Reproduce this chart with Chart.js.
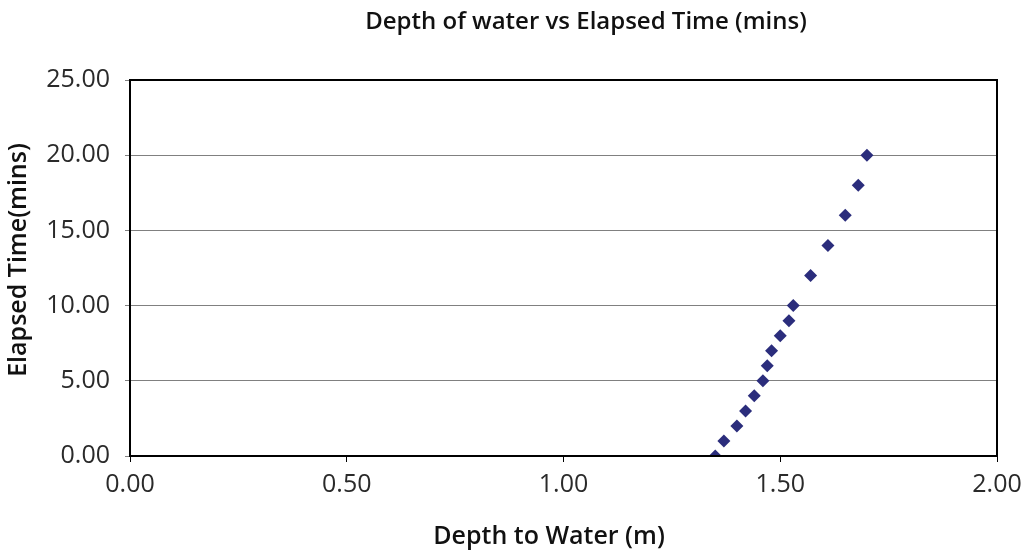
<!DOCTYPE html>
<html>
<head>
<meta charset="utf-8">
<script src="https://cdn.jsdelivr.net/npm/chart.js@4/dist/chart.umd.min.js"></script>
<style>
html,body{margin:0;padding:0;background:#fff;}
#c{display:block;}
</style>
</head>
<body>
<canvas id="c" width="1026" height="553"></canvas>
<script>
const chartTitle = "Depth of water vs Elapsed Time (mins)";
const xAxisTitle = "Depth to Water (m)";
const yAxisTitle = "Elapsed Time(mins)";
const depthToWater = [1.35, 1.37, 1.40, 1.42, 1.44, 1.46, 1.47, 1.48, 1.50, 1.52, 1.53, 1.57, 1.61, 1.65, 1.68, 1.70];
const elapsedTime  = [0, 1, 2, 3, 4, 5, 6, 7, 8, 9, 10, 12, 14, 16, 18, 20];
const xTicks = [0, 0.5, 1.0, 1.5, 2.0];
const yTicks = [0, 5, 10, 15, 20, 25];

const points = depthToWater.map((x, i) => ({x: x, y: elapsedTime[i]}));
const FONT = "'Open Sans', 'DejaVu Sans', sans-serif";

const decor = {
  id: 'decor',
  afterDraw(chart) {
    const ctx = chart.ctx, a = chart.chartArea;
    ctx.save();
    ctx.strokeStyle = '#000';
    ctx.lineWidth = 2;
    ctx.strokeRect(a.left, a.top, a.right - a.left, a.bottom - a.top);
    ctx.fillStyle = '#111';
    ctx.textAlign = 'center';
    ctx.textBaseline = 'middle';
    ctx.font = "600 24px " + FONT;
    ctx.fillText(chartTitle, 586, 22);
    ctx.font = "600 25px " + FONT;
    ctx.fillText(xAxisTitle, 549, 537);
    ctx.translate(19, 260);
    ctx.rotate(-Math.PI / 2);
    ctx.fillText(yAxisTitle, 0, 0);
    ctx.restore();
  }
};

new Chart(document.getElementById('c'), {
  type: 'scatter',
  data: {
    datasets: [{
      data: points,
      pointStyle: 'rectRot',
      pointRadius: 6.5,
      pointHoverRadius: 6.5,
      pointBorderWidth: 0,
      backgroundColor: '#2B2D7C',
      borderColor: '#2B2D7C',
      showLine: false
    }]
  },
  options: {
    responsive: false,
    animation: false,
    layout: { padding: { top: 80, right: 29, left: 0, bottom: 0 } },
    plugins: { legend: { display: false }, tooltip: { enabled: false }, title: { display: false } },
    scales: {
      x: {
        type: 'linear', min: 0, max: 2,
        afterBuildTicks(s) { s.ticks = xTicks.map(v => ({value: v})); },
        afterFit(s) { s.height = 97; s.paddingLeft = 0; s.paddingRight = 0; },
        grid: { drawOnChartArea: false, drawTicks: true, tickLength: 6, color: '#000', lineWidth: 1 },
        border: { display: true, color: '#000', width: 2 },
        ticks: { color: '#2a2a2a', font: { family: FONT, size: 25 }, padding: 8, maxRotation: 0,
                 callback: v => Number(v).toFixed(2) }
      },
      y: {
        type: 'linear', min: 0, max: 25,
        afterBuildTicks(s) { s.ticks = yTicks.map(v => ({value: v})); },
        afterFit(s) { s.width = 130; s.paddingTop = 0; s.paddingBottom = 0; },
        grid: { drawOnChartArea: true, drawTicks: true, tickLength: 5, color: '#808080', lineWidth: 1 },
        border: { display: true, color: '#000', width: 2 },
        ticks: { color: '#2a2a2a', font: { family: FONT, size: 25 }, padding: 15,
                 callback: v => Number(v).toFixed(2) }
      }
    }
  },
  plugins: [decor]
});
</script>
</body>
</html>
